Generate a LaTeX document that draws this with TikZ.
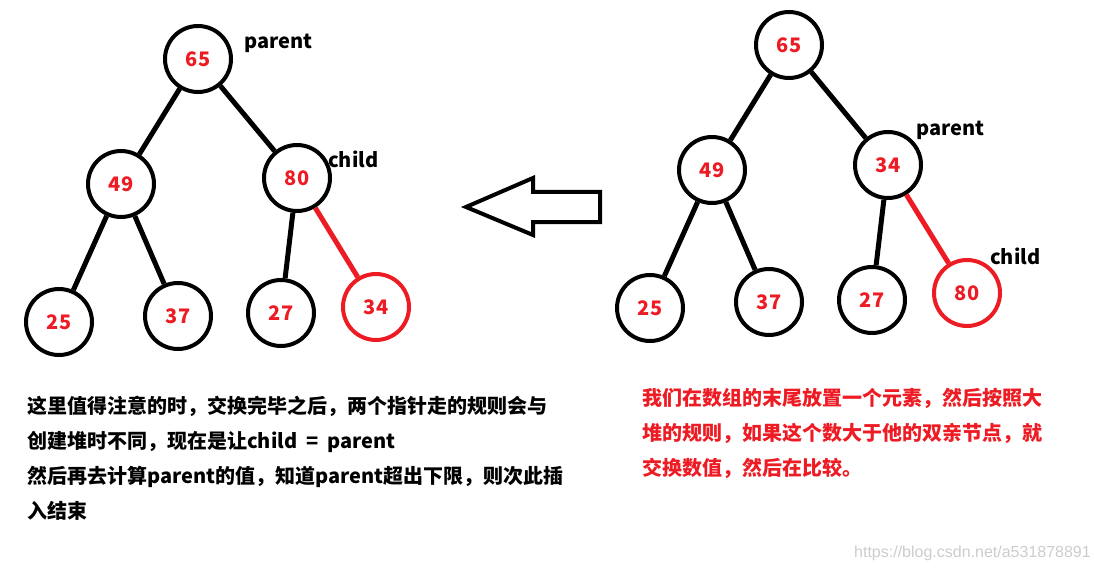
\documentclass[tikz,border=0pt]{standalone}
\usepackage{fontspec}
\setmainfont{Noto Sans CJK SC}
\newfontfamily\urlfont{Liberation Sans}
\usepackage{tikz}
\usetikzlibrary{positioning}
\definecolor{paintred}{RGB}{237,28,36}
\tikzstyle{vertex}=[draw,circle,line width=4pt,minimum size=66pt,inner sep=0pt,text=paintred,font=\bfseries\fontsize{20}{24}\selectfont]
\tikzstyle{hot}=[vertex,draw=paintred]
\tikzstyle{tag}=[anchor=west,inner sep=0pt,font=\bfseries\fontsize{20}{24}\selectfont]
\tikzstyle{note}=[anchor=north west,inner sep=0pt,align=left,font=\bfseries\fontsize{20}{35}\selectfont]

\begin{document}
\begin{tikzpicture}[x=1pt,y=-1pt,
every edge/.style = {draw, line width=5pt}]
\useasboundingbox (0,0) rectangle (1094,572);
% left tree: after the swap
\node [vertex] (l65) at (198,59) {65};
\node [vertex] (l49) at (121,184) {49};
\node [vertex] (l80) at (297,178) {80};
\node [vertex] (l25) at (59,322) {25};
\node [vertex] (l37) at (178,316) {37};
\node [vertex] (l27) at (281,313) {27};
\node [hot] (l34) at (376,307) {34};
\node [tag] (lparent) at (244,43) {parent};
\node [tag] (lchild) at (328,159) {child};
\draw (l65) edge (l49) (l65) edge (l80)
      (l49) edge (l25) (l49) edge (l37)
      (l80) edge (l27) (l80) edge[draw=paintred] (l34);
% right tree: before the swap
\node [vertex] (r65) at (789,45) {65};
\node [vertex] (r49) at (712,170) {49};
\node [vertex] (r34) at (888,165) {34};
\node [vertex] (r25) at (650,308) {25};
\node [vertex] (r37) at (769,302) {37};
\node [vertex] (r27) at (872,300) {27};
\node [hot] (r80) at (967,293) {80};
\node [tag] (rparent) at (916,130) {parent};
\node [tag] (rchild) at (990,256) {child};
\draw (r65) edge (r49) (r65) edge (r34)
      (r49) edge (r25) (r49) edge (r37)
      (r34) edge (r27) (r34) edge[draw=paintred] (r80);
% big hollow arrow
\draw [line width=4pt,line join=miter] (466,207) -- (533,178) -- (533,192) -- (600,192)
      -- (600,222) -- (533,222) -- (533,235) -- cycle;
% notes
\node [note] (lnote) at (27,396) {这里值得注意的时，交换完毕之后，两个指针走的规则会与\\创建堆时不同，现在是让child\ \ =\ \ parent\\然后再去计算parent的值，知道parent超出下限，则次此插\\入结束};
\node [note,text=paintred] (rnote) at (642,388) {我们在数组的末尾放置一个元素，然后按照大\\堆的规则，如果这个数大于他的双亲节点，就\\交换数值，然后在比较。};
\node [anchor=east,inner sep=0pt,text=black!20,font=\urlfont\fontsize{16}{18}\selectfont] (mark) at (1091,553) {https://blog.csdn.net/a531878891};
\end{tikzpicture}
\end{document}
